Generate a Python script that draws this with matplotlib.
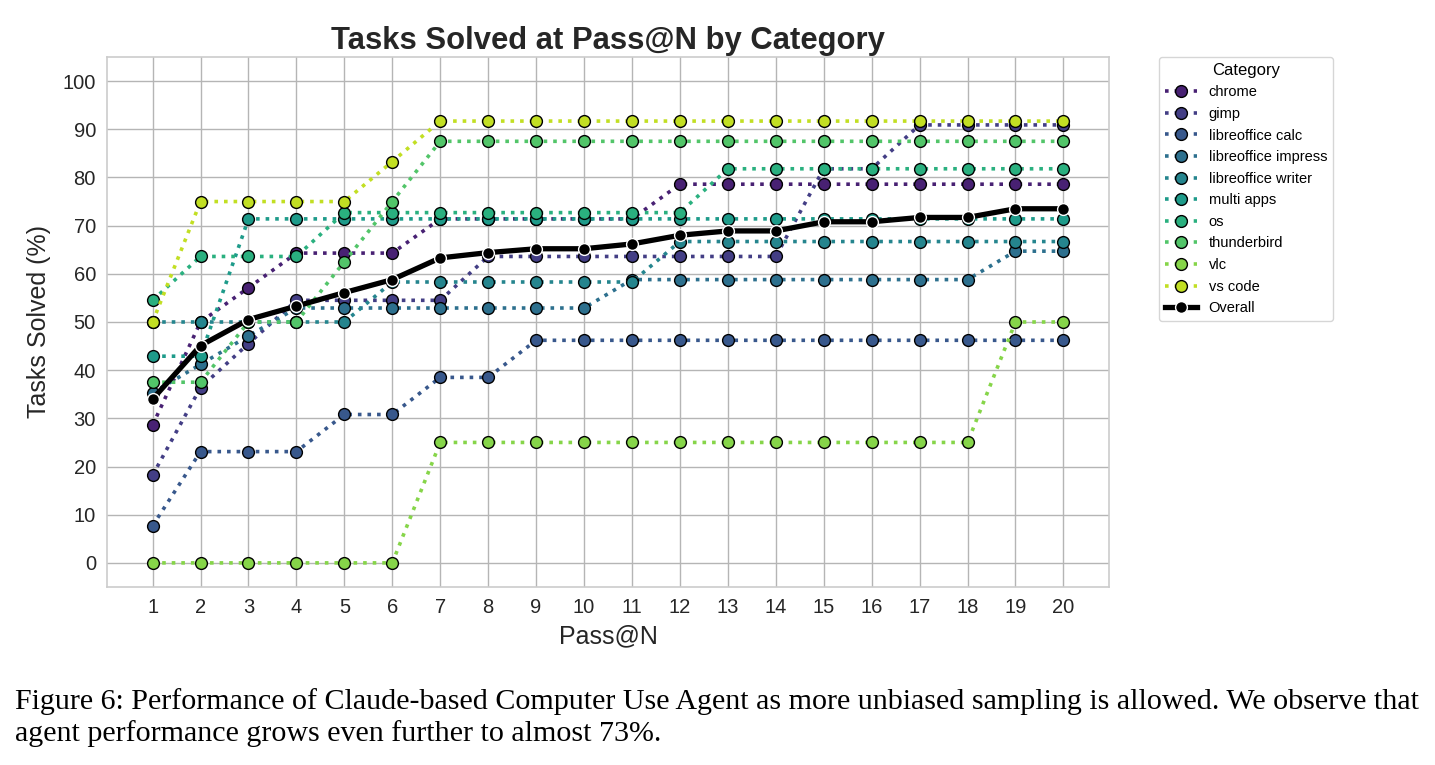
import matplotlib
matplotlib.use("Agg")
import matplotlib.pyplot as plt
import numpy as np

passes = list(range(1, 21))

categories = ["chrome", "gimp", "libreoffice calc", "libreoffice impress",
              "libreoffice writer", "multi apps", "os", "thunderbird", "vlc", "vs code"]

chrome = [28.6, 50.0, 57.1, 64.3, 64.3, 64.3, 71.4, 71.4, 71.4, 71.4,
          71.4, 78.6, 78.6, 78.6, 78.6, 78.6, 78.6, 78.6, 78.6, 78.6]
gimp = [18.2, 36.4, 45.5, 54.5, 54.5, 54.5, 54.5, 63.6, 63.6, 63.6,
        63.6, 63.6, 63.6, 63.6, 81.8, 81.8, 90.9, 90.9, 90.9, 90.9]
lo_calc = [7.7, 23.1, 23.1, 23.1, 30.8, 30.8, 38.5, 38.5, 46.2, 46.2,
           46.2, 46.2, 46.2, 46.2, 46.2, 46.2, 46.2, 46.2, 46.2, 46.2]
lo_impress = [35.3, 41.2, 47.1, 52.9, 52.9, 52.9, 52.9, 52.9, 52.9, 52.9,
              58.8, 58.8, 58.8, 58.8, 58.8, 58.8, 58.8, 58.8, 64.7, 64.7]
lo_writer = [50.0, 50.0, 50.0, 50.0, 50.0, 58.3, 58.3, 58.3, 58.3, 58.3,
             58.3, 66.7, 66.7, 66.7, 66.7, 66.7, 66.7, 66.7, 66.7, 66.7]
multi_apps = [42.9, 42.9, 71.4, 71.4, 71.4, 71.4, 71.4, 71.4, 71.4, 71.4,
              71.4, 71.4, 71.4, 71.4, 71.4, 71.4, 71.4, 71.4, 71.4, 71.4]
os_vals = [54.5, 63.6, 63.6, 63.6, 72.7, 72.7, 72.7, 72.7, 72.7, 72.7,
           72.7, 72.7, 81.8, 81.8, 81.8, 81.8, 81.8, 81.8, 81.8, 81.8]
thunderbird = [37.5, 37.5, 50.0, 50.0, 62.5, 75.0, 87.5, 87.5, 87.5, 87.5,
               87.5, 87.5, 87.5, 87.5, 87.5, 87.5, 87.5, 87.5, 87.5, 87.5]
vlc = [0, 0, 0, 0, 0, 0, 25, 25, 25, 25,
       25, 25, 25, 25, 25, 25, 25, 25, 50, 50]
vs_code = [50.0, 75.0, 75.0, 75.0, 75.0, 83.3, 91.7, 91.7, 91.7, 91.7,
           91.7, 91.7, 91.7, 91.7, 91.7, 91.7, 91.7, 91.7, 91.7, 91.7]
overall = [34.0, 45.1, 50.5, 53.3, 56.1, 58.8, 63.3, 64.4, 65.2, 65.2,
           66.2, 68.0, 68.9, 68.9, 70.8, 70.8, 71.7, 71.7, 73.5, 73.5]

series = [chrome, gimp, lo_calc, lo_impress, lo_writer,
          multi_apps, os_vals, thunderbird, vlc, vs_code]

plt.rcParams["font.family"] = ["Liberation Sans", "DejaVu Sans"]

colors = plt.cm.viridis(np.linspace(0, 1, len(categories) + 2)[1:-1])

fig = plt.figure(figsize=(14.35, 7.65), dpi=100)
ax = fig.add_axes([0.0746, 0.2327, 0.6982, 0.6928])

for name, vals, c in zip(categories, series, colors):
    ax.plot(passes, vals, linestyle=":", linewidth=2.6, color=c,
            marker="o", markersize=8.5, markerfacecolor=c,
            markeredgecolor="black", markeredgewidth=1.0, label=name)

ax.plot(passes, overall, linestyle="-", linewidth=3.8, color="black",
        marker="o", markersize=8.5, markerfacecolor="black",
        markeredgecolor="white", markeredgewidth=1.0, label="Overall", zorder=5)

ax.set_xlim(0.05, 20.95)
ax.set_ylim(-5, 105)
ax.set_xticks(passes)
ax.set_yticks(range(0, 101, 10))
ax.tick_params(axis="both", labelsize=14.5, length=0, pad=8, colors="#262626")
ax.grid(True, color="#b5b5b5", linewidth=1.0)
ax.set_axisbelow(True)
for s in ax.spines.values():
    s.set_color("#cccccc")
    s.set_linewidth(1.2)

ax.set_title("Tasks Solved at Pass@N by Category", fontsize=22.3,
             fontweight="bold", color="#262626", pad=6)
ax.set_xlabel("Pass@N", fontsize=18, color="#262626", labelpad=5)
ax.set_ylabel("Tasks Solved (%)", fontsize=18, color="#262626", labelpad=8)

leg = ax.legend(title="Category", loc="upper left", bbox_to_anchor=(1.05, 1.0),
                borderaxespad=0, fontsize=10.5, title_fontsize=12,
                frameon=True, handlelength=2.2, labelspacing=0.52)
leg.get_frame().set_edgecolor("#cccccc")

fig.text(0.0105, 0.100,
         "Figure 6: Performance of Claude-based Computer Use Agent as more unbiased sampling is allowed. We observe that\n"
         "agent performance grows even further to almost 73%.",
         fontsize=21.6, family="Liberation Serif", ha="left", va="top",
         linespacing=1.2)

fig.savefig("out.png", dpi=100, facecolor="white")
